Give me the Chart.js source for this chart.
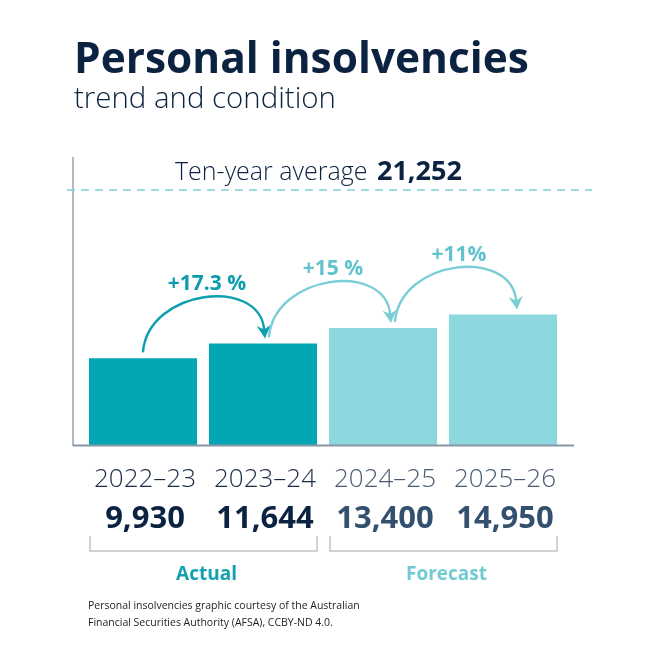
<!DOCTYPE html>
<html><head><meta charset="utf-8">
<script src="https://cdn.jsdelivr.net/npm/chart.js@4.4.1/dist/chart.umd.min.js"></script>
<style>
html,body{margin:0;padding:0;background:#fff;}
#wrap{position:relative;width:648px;height:647px;}
</style></head><body>
<div id="wrap"><canvas id="c" width="648" height="647" role="img" aria-label="Personal insolvencies trend and condition"></canvas></div>
<script>
// ---- data ----
const titleText = "Personal insolvencies";
const subtitleText = "trend and condition";
const categories = ["2022–23", "2023–24", "2024–25", "2025–26"];
const values = [9930, 11644, 13400, 14950];
const valueLabels = ["9,930", "11,644", "13,400", "14,950"];
const isForecast = [false, false, true, true];
const changeLabels = ["+17.3 %", "+15 %", "+11%"];
const averageCaption = "Ten-year average";
const averageLabel = "21,252";
const groupLabels = ["Actual", "Forecast"];
const groupRanges = [[0, 1], [2, 3]];
const footnoteLines = ["Personal insolvencies graphic courtesy of the Australian",
                       "Financial Securities Authority (AFSA), CCBY-ND 4.0."];
const yMax = 33000;

// ---- styles ----
const FAM = '"Open Sans", "Noto Sans", sans-serif';
const NAVY = '#0b2341';
const C_ACT = '#02a6b5', C_FC = '#8dd7df';

function fit(ctx, text, weight, target) {
  ctx.font = weight + ' 100px ' + FAM;
  return 100 * target / ctx.measureText(text).width;
}
function txt(ctx, text, weight, size, color, x, y, align) {
  ctx.font = weight + ' ' + size.toFixed(2) + 'px ' + FAM;
  ctx.fillStyle = color; ctx.textAlign = align || 'left'; ctx.textBaseline = 'alphabetic';
  ctx.fillText(text, x, y);
}

const decor = {
  id: 'decor',
  beforeDatasetsDraw(chart) {
    const ctx = chart.ctx, a = chart.chartArea;
    ctx.save();
    ctx.strokeStyle = '#97a3b0'; ctx.lineWidth = 1.5;
    ctx.beginPath(); ctx.moveTo(a.left - 10, a.top); ctx.lineTo(a.left - 10, a.bottom + 1); ctx.stroke();
    const ay = a.top + 33;
    ctx.strokeStyle = '#82d0d7'; ctx.lineWidth = 1.5; ctx.setLineDash([8, 6]);
    ctx.beginPath(); ctx.moveTo(a.left - 16, ay); ctx.lineTo(a.right + 29, ay); ctx.stroke();
    ctx.setLineDash([]);
    ctx.restore();
  },
  afterDatasetsDraw(chart) {
    const ctx = chart.ctx, a = chart.chartArea;
    const meta = chart.getDatasetMeta(0);
    const xs = chart.scales.x, ys = chart.scales.y;
    ctx.save();
    ctx.strokeStyle = '#8a96a3'; ctx.lineWidth = 2;
    ctx.beginPath(); ctx.moveTo(a.left - 10, a.bottom + 0.5); ctx.lineTo(a.right + 11, a.bottom + 0.5); ctx.stroke();

    let s = fit(ctx, titleText, 700, 455);
    txt(ctx, titleText, 700, s, NAVY, 74, 73);
    s = fit(ctx, subtitleText, 300, 262);
    txt(ctx, subtitleText, 300, s, NAVY, 74, 108);

    const ay = a.top + 33;
    txt(ctx, averageCaption, 300, 25, NAVY, 175, ay - 10);
    ctx.font = '300 25px ' + FAM;
    const capW = ctx.measureText(averageCaption + ' ').width;
    txt(ctx, averageLabel, 700, 27, NAVY, 175 + capW + 3, ay - 10);

    for (let i = 0; i < values.length - 1; i++) {
      const c0 = xs.getPixelForValue(i);
      const t0 = ys.getPixelForValue(values[i]), t1 = ys.getPixelForValue(values[i + 1]);
      const sx = c0 + 6 * i, sy = t0 - 7;
      const ex = sx + 122, ey = t1 - 5;
      const h = 62;
      const col = i === 0 ? '#0ca0ae' : '#7dcdd6';
      const cp1x = sx + 6, cp1y = sy - h, cp2x = ex - 6, cp2y = ey - h;
      const ang = Math.atan2(ey - cp2y, ex - cp2x);
      const L = 13, W = 7;
      const bx = ex - Math.cos(ang) * (L - 4), by = ey - Math.sin(ang) * (L - 4);
      ctx.strokeStyle = col; ctx.lineWidth = 2.4; ctx.lineCap = 'round';
      ctx.beginPath(); ctx.moveTo(sx, sy); ctx.bezierCurveTo(cp1x, cp1y, cp2x, cp2y, bx, by); ctx.stroke();
      const px = -Math.sin(ang), py = Math.cos(ang);
      const backX = ex - Math.cos(ang) * L, backY = ey - Math.sin(ang) * L;
      const notchX = ex - Math.cos(ang) * (L - 4), notchY = ey - Math.sin(ang) * (L - 4);
      ctx.fillStyle = col;
      ctx.beginPath();
      ctx.moveTo(ex, ey);
      ctx.lineTo(backX + px * W, backY + py * W);
      ctx.lineTo(notchX, notchY);
      ctx.lineTo(backX - px * W, backY - py * W);
      ctx.closePath(); ctx.fill();
      const peakY = 0.125 * sy + 0.375 * cp1y + 0.375 * cp2y + 0.125 * ey;
      const lblCol = i === 0 ? '#0b9dac' : '#62c2cd';
      txt(ctx, changeLabels[i], 700, 21, lblCol, (sx + ex) / 2 + 3, peakY - 8, 'center');
    }

    for (let i = 0; i < categories.length; i++) {
      const cx = xs.getPixelForValue(i) + 2;
      txt(ctx, categories[i], 300, 26, isForecast[i] ? '#4a5a72' : '#1b2a44', cx, a.bottom + 42, 'center');
      txt(ctx, valueLabels[i], 700, 31, isForecast[i] ? '#34506f' : NAVY, cx, a.bottom + 83, 'center');
    }

    groupRanges.forEach((r, gi) => {
      const e0 = meta.data[r[0]], e1 = meta.data[r[1]];
      const x0 = e0.x - e0.width / 2 + 1, x1 = e1.x + e1.width / 2;
      const yTop = a.bottom + 91, yBot = a.bottom + 106;
      ctx.strokeStyle = '#c2c4c6'; ctx.lineWidth = 1.5; ctx.lineCap = 'butt';
      ctx.beginPath(); ctx.moveTo(x0, yTop); ctx.lineTo(x0, yBot); ctx.lineTo(x1, yBot); ctx.lineTo(x1, yTop); ctx.stroke();
      txt(ctx, groupLabels[gi], 700, 19, gi === 0 ? '#14a1af' : '#72cad3', (x0 + x1) / 2 + 3, a.bottom + 135, 'center');
    });

    const fs = fit(ctx, footnoteLines[0], 400, 272);
    txt(ctx, footnoteLines[0], 400, fs, '#1e1e1e', 88, 609);
    txt(ctx, footnoteLines[1], 400, fs, '#1e1e1e', 88, 626);
    ctx.restore();
  }
};

new Chart(document.getElementById('c'), {
  type: 'bar',
  data: {
    labels: categories,
    datasets: [{
      data: values,
      backgroundColor: isForecast.map(f => f ? C_FC : C_ACT),
      borderWidth: 0,
      barPercentage: 0.9,
      categoryPercentage: 1.0
    }]
  },
  options: {
    responsive: false,
    animation: false,
    layout: { padding: { left: 83, right: 85, top: 157, bottom: 202 } },
    plugins: { legend: { display: false }, tooltip: { enabled: false }, title: { display: false } },
    scales: {
      x: { display: false },
      y: { display: false, min: 0, max: yMax }
    }
  },
  plugins: [decor]
});
</script>
</body></html>
